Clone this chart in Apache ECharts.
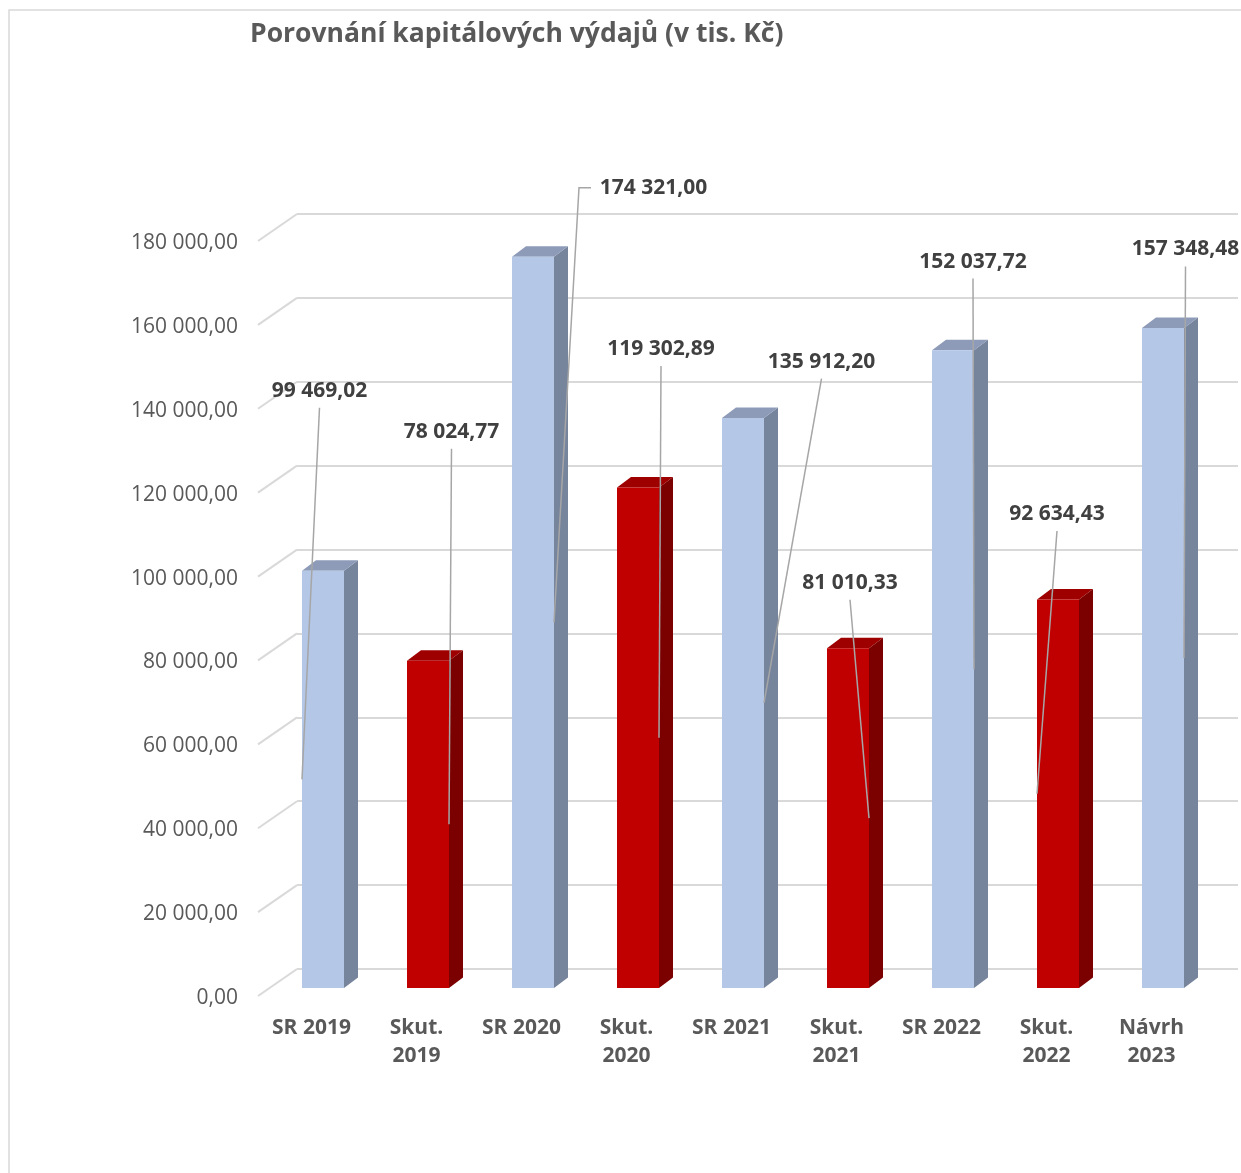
<!DOCTYPE html>
<html><head><meta charset="utf-8">
<script src="https://cdn.jsdelivr.net/npm/echarts@6/dist/echarts.min.js"></script>
<style>html,body{margin:0;padding:0;background:#fff}#c{width:1241px;height:1173px}</style>
</head><body><div id="c"></div>
<script>
// ---- data ----
const chartTitle = 'Porovnání kapitálových výdajů (v tis. Kč)';
const categories = ['SR 2019', 'Skut.\n2019', 'SR 2020', 'Skut.\n2020', 'SR 2021', 'Skut.\n2021', 'SR 2022', 'Skut.\n2022', 'Návrh\n2023'];
const budgetValues = [99469.02, null, 174321.00, null, 135912.20, null, 152037.72, null, 157348.48];
const actualValues = [null, 78024.77, null, 119302.89, null, 81010.33, null, 92634.43, null];
const yTicks = [0, 20000, 40000, 60000, 80000, 100000, 120000, 140000, 160000, 180000];

// ---- style (label placement offsets, px, from bar's top-front centre) ----
const labelOffsets = [[-3.5,-180],[23.5,-229],[120.5,-69],[23,-138.6],[78.5,-56.3],[2,-65.5],[20,-88.7],[-1,-85.5],[22.5,-78.6]];
const FONT = '"Open Sans", sans-serif';
const BLUE = {front:'#b4c7e7', side:'#76849c', top:'#8d9bb8'};
const RED = {front:'#c00000', side:'#7b0000', top:'#9e0000'};
const DEPTH = [14, -10.5];

function fmt(v) {
  const parts = v.toFixed(2).split('.');
  return parts[0].replace(/\B(?=(\d{3})+(?!\d))/g, ' ') + ',' + parts[1];
}

function barRenderer(col) {
  return function (params, api) {
    const i = api.value(0), v = api.value(1);
    const top = api.coord([i, v]);
    const base = api.coord([i, 0]);
    const w = api.size([1, 0])[0] * 0.4;
    const x0 = top[0] - w / 2, x1 = top[0] + w / 2;
    const dx = DEPTH[0], dy = DEPTH[1];
    return {
      type: 'group',
      children: [
        {type: 'polygon', shape: {points: [[x1, top[1]], [x1 + dx, top[1] + dy], [x1 + dx, base[1] + dy], [x1, base[1]]]}, style: {fill: col.side}},
        {type: 'polygon', shape: {points: [[x0, top[1]], [x0 + dx, top[1] + dy], [x1 + dx, top[1] + dy], [x1, top[1]]]}, style: {fill: col.top}},
        {type: 'rect', shape: {x: x0, y: top[1], width: w, height: base[1] - top[1]}, style: {fill: col.front}}
      ]
    };
  };
}

const allValues = categories.map((c, i) => budgetValues[i] != null ? budgetValues[i] : actualValues[i]);

function labelRenderer(params, api) {
  const i = api.value(0), v = api.value(1);
  const top = api.coord([i, v]);
  const mid = api.coord([i, v / 2]);
  const w = api.size([1, 0])[0] * 0.4;
  const x0 = top[0] - w / 2, x1 = top[0] + w / 2;
  const off = labelOffsets[i];
  const lx = top[0] + off[0], ly = top[1] + off[1];
  const txt = fmt(v);
  const halfW = txt.length * 10.7 / 2;
  const endX = lx < top[0] ? x0 : x1;
  let pts;
  if (lx - halfW > x1 + 20) {
    pts = [[lx - halfW - 9, ly], [lx - halfW - 21, ly], [endX, mid[1]]];
  } else {
    pts = [[lx, ly + 17], [endX, mid[1]]];
  }
  return {
    type: 'group',
    children: [
      {type: 'polyline', shape: {points: pts}, style: {stroke: '#a6a6a6', lineWidth: 1.5, fill: null}},
      {type: 'text', style: {text: txt, x: lx, y: ly, align: 'center', verticalAlign: 'middle', font: 'bold 21px ' + FONT, fill: '#404040'}}
    ]
  };
}

function diagRenderer(params, api) {
  const v = api.value(1);
  const p = api.coord([0, v]);
  const x = params.coordSys.x;
  return {type: 'line', shape: {x1: x - 1, y1: p[1] - 2, x2: x + 38, y2: p[1] - 29}, style: {stroke: '#d9d9d9', lineWidth: 2}};
}

const chart = echarts.init(document.getElementById('c'), null, {renderer: 'canvas'});
chart.setOption({
  animation: false,
  backgroundColor: '#ffffff',
  title: {text: chartTitle, left: 245, top: 16, textStyle: {fontFamily: FONT, fontSize: 26.5, fontWeight: 'bold', color: '#595959'}},
  graphic: [{type: 'rect', shape: {x: 9, y: 10, width: 1400, height: 1400}, style: {fill: null, stroke: '#d9d9d9', lineWidth: 1.5}, z: -10}],
  grid: [
    {left: 297, right: 3, top: 214, bottom: 204},
    {left: 259, right: 37, top: 243, bottom: 175},
    {left: 270.5, right: 25.5, top: 233, bottom: 185}
  ],
  xAxis: [
    {gridIndex: 0, type: 'value', min: 0, max: 1, show: false},
    {gridIndex: 1, type: 'category', data: categories, axisLine: {show: false}, axisTick: {show: false},
      axisLabel: {interval: 0, margin: 16, color: '#595959', fontFamily: FONT, fontSize: 21, fontWeight: 'bold', lineHeight: 28}},
    {gridIndex: 2, type: 'category', data: categories, show: false}
  ],
  yAxis: [
    {gridIndex: 0, type: 'value', min: 0, max: 180000, interval: 20000, axisLabel: {show: false}, axisLine: {show: false}, axisTick: {show: false},
      splitLine: {show: true, lineStyle: {color: '#d9d9d9', width: 2}}},
    {gridIndex: 1, type: 'value', min: 0, max: 180000, interval: 20000, axisLine: {show: false}, axisTick: {show: false}, splitLine: {show: false},
      axisLabel: {formatter: fmt, margin: 21, color: '#595959', fontFamily: FONT, fontSize: 21}},
    {gridIndex: 2, type: 'value', min: 0, max: 180000, interval: 20000, show: false, splitLine: {show: false}}
  ],
  series: [
    {type: 'custom', name: 'grid-floor', xAxisIndex: 1, yAxisIndex: 1, clip: false, silent: true, z: 1,
      data: yTicks.map(v => [0, v]), encode: {x: 0, y: 1}, renderItem: diagRenderer},
    {type: 'custom', name: 'SR', xAxisIndex: 2, yAxisIndex: 2, clip: false, z: 2,
      data: budgetValues.map((v, i) => [i, v]).filter(d => d[1] != null), encode: {x: 0, y: 1}, renderItem: barRenderer(BLUE)},
    {type: 'custom', name: 'Skutečnost', xAxisIndex: 2, yAxisIndex: 2, clip: false, z: 2,
      data: actualValues.map((v, i) => [i, v]).filter(d => d[1] != null), encode: {x: 0, y: 1}, renderItem: barRenderer(RED)},
    {type: 'custom', name: 'labels', xAxisIndex: 2, yAxisIndex: 2, clip: false, z: 5,
      data: allValues.map((v, i) => [i, v]), encode: {x: 0, y: 1}, renderItem: labelRenderer}
  ]
});
</script></body></html>
